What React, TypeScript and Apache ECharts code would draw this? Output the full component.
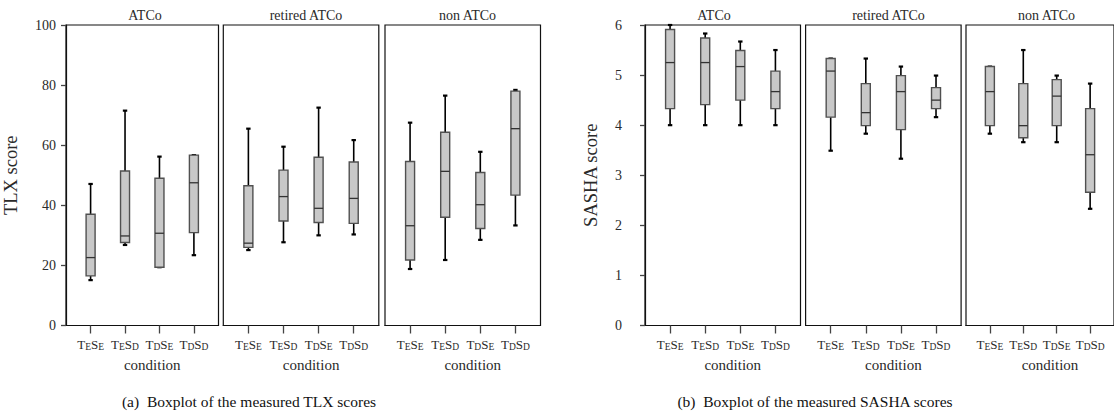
import React, { useEffect, useRef } from 'react';
import * as echarts from 'echarts';

// ---- data ----
const conditions = ['TESE', 'TESD', 'TDSE', 'TDSD'];
const conditionLabels = [
  '{t|T}{s|E}{t|S}{s|E}',
  '{t|T}{s|E}{t|S}{s|D}',
  '{t|T}{s|D}{t|S}{s|E}',
  '{t|T}{s|D}{t|S}{s|D}',
];
const groups = ['ATCo', 'retired ATCo', 'non ATCo'];
const tlxTicks = [0, 20, 40, 60, 80, 100];
const sashaTicks = [0, 1, 2, 3, 4, 5, 6];

// each row: [min, Q1, median, Q3, max]
const tlxAtco = [
  [15.1, 16.5, 22.6, 37.0, 47.1],
  [26.8, 27.6, 29.8, 51.4, 71.5],
  [19.4, 19.4, 30.7, 49.0, 56.2],
  [23.4, 30.9, 47.5, 56.7, 56.7],
];
const tlxRetired = [
  [25.1, 26.0, 27.4, 46.5, 65.5],
  [27.7, 34.8, 42.9, 51.7, 59.5],
  [30.0, 34.3, 39.0, 56.0, 72.5],
  [30.3, 34.0, 42.3, 54.4, 61.7],
];
const tlxNon = [
  [18.8, 21.8, 33.2, 54.6, 67.5],
  [21.8, 36.0, 51.3, 64.3, 76.5],
  [28.5, 32.3, 40.2, 50.9, 57.8],
  [33.3, 43.4, 65.5, 78.0, 78.4],
];
const sashaAtco = [
  [4.0, 4.33, 5.25, 5.91, 6.0],
  [4.0, 4.41, 5.25, 5.74, 5.83],
  [4.0, 4.5, 5.17, 5.49, 5.67],
  [4.0, 4.33, 4.67, 5.08, 5.5],
];
const sashaRetired = [
  [3.49, 4.16, 5.08, 5.33, 5.33],
  [3.83, 3.99, 4.25, 4.83, 5.33],
  [3.33, 3.91, 4.67, 4.99, 5.17],
  [4.16, 4.33, 4.5, 4.75, 4.99],
];
const sashaNon = [
  [3.83, 3.99, 4.67, 5.17, 5.17],
  [3.66, 3.75, 3.99, 4.83, 5.5],
  [3.66, 3.99, 4.58, 4.91, 4.99],
  [2.33, 2.66, 3.41, 4.33, 4.83],
];

const tlxTitle = 'TLX score';
const sashaTitle = 'SASHA score';
const xTitle = 'condition';
const captionA = '(a)  Boxplot of the measured TLX scores';
const captionB = '(b)  Boxplot of the measured SASHA scores';

// ---- layout ----
const SERIF = '"Liberation Serif", serif';
const TXT = '#2a2a2a';
const GRID_TOP = 25;
const GRID_H = 300.5;
const PANEL_W = 155.5;
const panelLefts = [63, 223.3, 385, 645, 805.6, 966];
const titleCenters = [145, 306, 467.5, 714, 888.5, 1046.5];

function App() {
  const ref = useRef<HTMLDivElement>(null);
  useEffect(() => {
    if (!ref.current) return;
    const chart = echarts.init(ref.current, undefined, { renderer: 'svg' });
    const panelData = [tlxAtco, tlxRetired, tlxNon, sashaAtco, sashaRetired, sashaNon];

    const grids: any[] = [];
    const xAxes: any[] = [];
    const yAxes: any[] = [];
    const series: any[] = [];
    const graphics: any[] = [];

    panelData.forEach((rows, i) => {
      const isTlx = i < 3;
      const first = i % 3 === 0;
      const ticks = isTlx ? tlxTicks : sashaTicks;
      grids.push({
        left: panelLefts[i],
        top: GRID_TOP,
        width: PANEL_W,
        height: GRID_H,
        show: true,
        borderColor: '#111',
        borderWidth: 1.2,
        backgroundColor: 'transparent',
        containLabel: false,
      });
      xAxes.push({
        type: 'value',
        gridIndex: i,
        min: 2 / 7,
        max: 33 / 7,
        splitLine: { show: false },
        axisLine: { show: true, lineStyle: { color: '#111', width: 1.2 } },
        axisTick: {
          show: true,
          length: 8,
          customValues: [1, 2, 3, 4],
          lineStyle: { color: '#444', width: 1.3 },
        },
        axisLabel: {
          show: true,
          margin: 11,
          customValues: [1, 2, 3, 4],
          fontFamily: SERIF,
          color: TXT,
          formatter: (v: number) => conditionLabels[Math.round(v) - 1] || '',
          rich: {
            t: { fontFamily: SERIF, fontSize: 13, color: TXT, lineHeight: 15, verticalAlign: 'middle' },
            s: { fontFamily: SERIF, fontSize: 9.5, color: TXT, lineHeight: 9, verticalAlign: 'bottom' },
          },
        },
        name: xTitle,
        nameLocation: 'middle',
        nameGap: 32,
        nameTextStyle: {
          fontFamily: SERIF,
          fontSize: 15,
          color: TXT,
          padding: [0, 0, 0, 20],
        },
      });
      yAxes.push({
        type: 'value',
        gridIndex: i,
        min: ticks[0],
        max: ticks[ticks.length - 1],
        interval: ticks[1] - ticks[0],
        splitLine: { show: false },
        axisLine: { show: first, lineStyle: { color: '#111', width: 1.2 } },
        axisTick: { show: first, length: 5, lineStyle: { color: '#444', width: 1.3 } },
        axisLabel: {
          show: first,
          margin: isTlx ? 10 : 23,
          fontFamily: SERIF,
          fontSize: 14,
          color: TXT,
        },
        name: first ? (isTlx ? tlxTitle : sashaTitle) : '',
        nameLocation: 'middle',
        nameGap: isTlx ? 46 : 45,
        nameTextStyle: { fontFamily: SERIF, fontSize: 18.5, color: TXT },
      });
      series.push({
        type: 'custom',
        name: groups[i % 3],
        xAxisIndex: i,
        yAxisIndex: i,
        data: rows.map((r, k) => [k + 1, ...r]),
        encode: { x: 0, y: [1, 2, 3, 4, 5] },
        renderItem: (params: any, api: any) => {
          const x = api.value(0);
          const pMin = api.coord([x, api.value(1)]);
          const pQ1 = api.coord([x, api.value(2)]);
          const pMed = api.coord([x, api.value(3)]);
          const pQ3 = api.coord([x, api.value(4)]);
          const pMax = api.coord([x, api.value(5)]);
          const cx = pMin[0];
          const half = 4.5;
          const cap = 2.2;
          const whisker = { stroke: '#000', lineWidth: 1.6 };
          const capStyle = { stroke: '#000', lineWidth: 2.2 };
          return {
            type: 'group',
            children: [
              { type: 'line', shape: { x1: cx, y1: pMax[1], x2: cx, y2: pQ3[1] }, style: whisker },
              { type: 'line', shape: { x1: cx, y1: pQ1[1], x2: cx, y2: pMin[1] }, style: whisker },
              { type: 'line', shape: { x1: cx - cap, y1: pMax[1], x2: cx + cap, y2: pMax[1] }, style: capStyle },
              { type: 'line', shape: { x1: cx - cap, y1: pMin[1], x2: cx + cap, y2: pMin[1] }, style: capStyle },
              {
                type: 'rect',
                shape: { x: cx - half, y: pQ3[1], width: half * 2, height: Math.max(pQ1[1] - pQ3[1], 0.5) },
                style: { fill: '#c8c8c8', stroke: '#505050', lineWidth: 1.4 },
              },
              {
                type: 'line',
                shape: { x1: cx - half, y1: pMed[1], x2: cx + half, y2: pMed[1] },
                style: { stroke: '#333', lineWidth: 1.3 },
              },
            ],
          };
        },
      });
      graphics.push({
        type: 'text',
        x: titleCenters[i],
        y: 15,
        style: {
          text: groups[i % 3],
          fontFamily: SERIF,
          fontSize: 14,
          fill: TXT,
          align: 'center',
          verticalAlign: 'middle',
        },
      });
    });

    graphics.push({
      type: 'text',
      x: 249,
      y: 401,
      style: { text: captionA, fontFamily: SERIF, fontSize: 15.5, fill: '#111', align: 'center', verticalAlign: 'middle' },
    });
    graphics.push({
      type: 'text',
      x: 815,
      y: 401,
      style: { text: captionB, fontFamily: SERIF, fontSize: 15.5, fill: '#111', align: 'center', verticalAlign: 'middle' },
    });

    chart.setOption({
      animation: false,
      backgroundColor: '#ffffff',
      textStyle: { fontFamily: SERIF, color: TXT },
      grid: grids,
      xAxis: xAxes,
      yAxis: yAxes,
      series,
      graphic: graphics,
    });
    return () => chart.dispose();
  }, []);
  return (
    <div
      ref={ref}
      style={{ position: 'fixed', left: 0, top: 0, width: 1114, height: 416, fontFamily: SERIF }}
    />
  );
}

export default App;
